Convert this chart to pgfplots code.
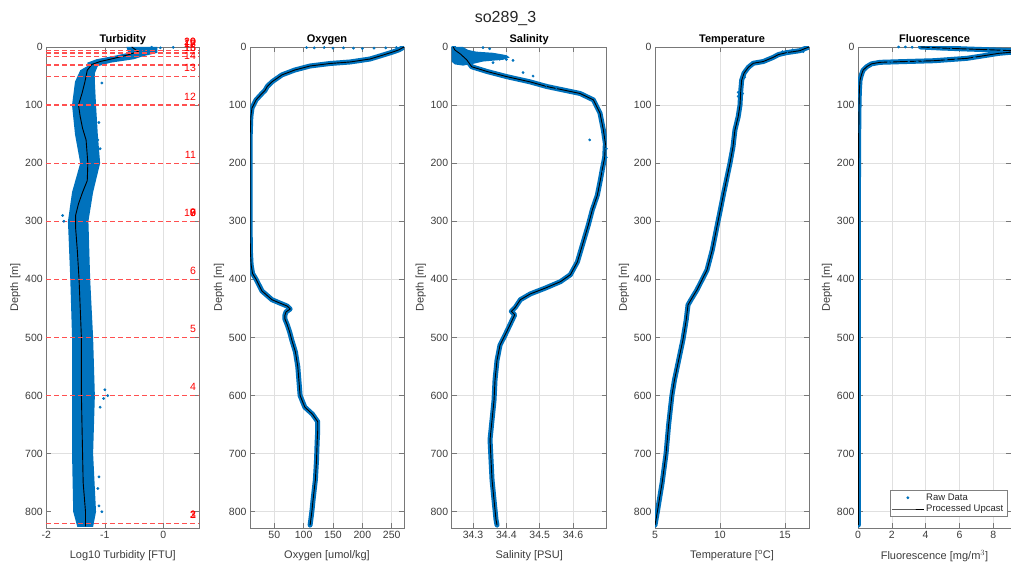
\documentclass[border=0pt]{standalone}
\usepackage{fontspec}
\setmainfont{Liberation Sans}
\usepackage{pgfplots}
\usepackage{pgfplotstable}
\pgfplotsset{compat=1.18}

\definecolor{matblue}{RGB}{0,114,189}
\definecolor{bottlered}{RGB}{255,0,0}
\definecolor{dashred}{RGB}{255,80,80}
\definecolor{axgray}{RGB}{120,120,120}
\definecolor{lblgray}{RGB}{60,60,60}

% ---------- turbidity (log10 FTU) ----------
\pgfplotstableread{
v d
-0.54 0
-0.43 8
-0.62 14
-0.86 20
-1.08 25
-1.22 30
-1.30 40
-1.34 60
-1.39 80
-1.45 100
-1.42 120
-1.38 140
-1.32 160
-1.29 200
-1.30 230
-1.38 250
-1.45 270
-1.50 290
-1.50 310
-1.47 350
-1.44 400
-1.42 450
-1.40 500
-1.40 550
-1.40 600
-1.39 650
-1.38 700
-1.37 750
-1.33 800
-1.33 825
}\turbproc

% outline of the raw scatter band
\pgfplotstableread{
v d
-0.10 0
-0.10 10
-0.35 16
-0.50 21
-0.90 27
-1.12 33
-1.17 45
-1.17 60
-1.15 100
-1.12 150
-1.08 200
-1.20 250
-1.28 300
-1.25 400
-1.20 500
-1.17 600
-1.20 700
-1.15 800
-1.20 826
-1.47 826
-1.54 800
-1.56 700
-1.56 600
-1.56 500
-1.59 400
-1.63 300
-1.56 250
-1.42 200
-1.51 150
-1.56 100
-1.51 60
-1.42 40
-1.30 33
-1.30 27
-1.14 21
-0.85 15.5
-0.60 10
-0.63 0
}\turbband

\pgfplotstableread{
v d
0.17 0.5
-0.20 0.5
-0.05 1.5
-0.25 3
-0.33 6
-1.05 62
-1.10 130
-1.12 160
-1.08 175
-1.72 290
-1.70 300
-1.00 590
-0.95 600
-1.02 605
-1.08 620
-1.10 740
-1.12 760
-1.10 790
-1.05 800
}\turbdots

\pgfplotstableread{
v d lab
0.56 805 1
0.56 805 2
0.56 805 3
0.56 585 4
0.56 485 5
0.56 385 6
0.56 285 7
0.56 285 8
0.56 285 9
0.56 285 10
0.56 185 11
0.56 85 12
0.56 36 13
0.56 16 14
0.56 1 15
0.56 1 16
0.56 -4.5 17
0.56 -4.5 18
0.56 -9 19
0.56 -9 20
}\bottlelabels

% ---------- oxygen (umol/kg) ----------
\pgfplotstableread{
v d
271 0
262 5
252 8.6
230 15.5
213 20.7
179 25.8
145 28.4
111 32.7
85 39.6
63 48
46 60
38 68
34 75
29 80
19 91
12 105
10 120
9 150
8.8 200
8.8 250
8.8 300
9.2 350
10.5 375
13 390
19 400
29 420
46 435
60 441
72 446
77 451
70 456
68 462
68 468
72 478
76 490
80 505
86 525
90 550
92 575
94 600
102 620
115 632
124 645
124 660
123 680
122 710
120 745
116 780
114 800
111 823
}\oxyproc

\pgfplotstableread{
v d
105 1
118 1.5
135 1
150 2
168 1.5
185 2
200 2.5
220 2
240 1.5
258 1
}\oxydots

% ---------- salinity (PSU) ----------
\pgfplotstableread{
v d
34.241 0
34.245 5
34.262 12
34.281 22
34.296 34
34.341 42
34.401 51
34.471 60
34.521 68
34.571 74
34.621 80
34.661 91
34.681 114
34.691 143
34.697 166
34.695 190
34.688 210
34.682 229
34.673 255
34.658 280
34.646 306
34.628 341
34.613 370
34.592 392
34.562 404
34.517 415
34.472 425
34.442 435
34.427 448
34.415 455
34.425 461
34.411 478
34.396 496
34.381 513
34.372 539
34.366 573
34.363 608
34.357 642
34.351 676
34.354 711
34.357 745
34.363 780
34.369 814
34.372 823
}\salproc

\pgfplotstableread{
v d
34.236 0
34.270 0
34.285 5
34.310 8
34.360 10
34.400 14
34.410 18
34.390 22
34.330 25
34.300 29
34.270 32
34.245 30
34.236 25
}\salcloud

\pgfplotstableread{
v d
34.33 1
34.35 3
34.38 21
34.40 21.5
34.42 23
34.36 27
34.45 44
34.48 50
34.52 66
34.55 70
34.65 160
34.70 175
34.70 190
34.69 215
}\saldots

% ---------- temperature (deg C) ----------
\pgfplotstableread{
v d
16.85 0
16.5 3
16.15 6.3
15.13 9.7
14.5 13
14.1 17.8
13.33 25
12.56 28
12.18 35
11.85 45
11.67 57
11.6 75
11.54 100
11.4 120
11.15 143
11.0 172
10.77 200
10.3 250
9.85 300
9.4 350
9.0 384
8.23 418
7.77 435
7.54 444
7.4 470
7.15 504
6.5 573
6.3 600
6.05 650
5.85 700
5.55 750
5.18 800
5.0 823
}\tempproc

\pgfplotstableread{
v d
15.6 5
16.4 8
14.8 8
15.2 11
11.40 78
11.40 85
11.75 80
11.90 52
}\tempdots

% ---------- fluorescence (mg/m3) ----------
\pgfplotstableread{
v d
3.7 0
5.0 1.8
6.5 3.5
8.0 5
9.05 6.3
9.8 7.5
9.8 8.5
9.05 9
8.3 11
7.66 14
6.45 19.5
4.5 23.6
2.5 25.3
1.3 26.4
0.8 29
0.52 33.8
0.3 40
0.2 48
0.12 57
0.08 75
0.06 100
0.04 150
0.03 200
0.02 400
0.02 823
}\fluproc

\pgfplotstableread{
v d
2.4 0
2.8 0
3.2 0.5
4.3 2
4.9 3.5
5.5 3.5
6.5 5
7.7 6
8.5 6
2.0 25
3.0 24
3.8 23
5.2 22
5.8 21
6.9 18
3.5 25.5
1.8 26
}\fludots

\pgfplotsset{
  panel/.style={
    scale only axis, width=154pt, height=481pt, anchor=south west,
    y dir=reverse, ymin=0, ymax=828, ytick={0,100,...,800},
    axis line style={axgray, line width=0.6pt},
    tick style={axgray, line width=0.6pt},
    tick align=inside, major tick length=5pt,
    grid=major, major grid style={black!12, line width=0.5pt},
    tick label style={font=\fontsize{10.5}{12}\selectfont, text=lblgray},
    label style={font=\fontsize{11}{13}\selectfont, text=lblgray},
    xlabel style={yshift=-5pt},
    ylabel style={yshift=-2pt},
    title style={font=\bfseries\fontsize{11}{13}\selectfont, at={(0.5,1)}, anchor=south,
      yshift=-6.5pt, inner sep=2pt, text depth=2.4pt},
    ylabel={Depth [m]},
    /pgf/number format/assume math mode=true,
  },
  rawband/.style={matblue, line width=5pt, line join=round, line cap=round},
  rawdots/.style={color=matblue, only marks, mark=*, mark size=1.2pt, mark options={draw=none, fill=matblue}},
  proc/.style={black, line width=0.9pt},
  bottle/.style={draw=dashred, line width=1.3pt, dash pattern=on 5pt off 3pt, forget plot},
}

\begin{document}
\begin{tikzpicture}
\useasboundingbox (0,0) rectangle (1011pt,569pt);

\node[font=\fontsize{16}{18}\selectfont, text=black!85] at (505.5pt,550pt) {so289\_3};

% Turbidity: y grid only where no bottle line lies (700 m)
\begin{axis}[panel, at={(46.3pt,41pt)}, width=153pt,
  title={Turbidity}, xmin=-2, xmax=0.615, xtick={-2,-1,0},
  ymajorgrids=false, extra y ticks={700}, extra y tick labels={},
  extra y tick style={grid=major},
  xlabel={Log10 Turbidity [FTU]}, clip=false]
  \addplot[fill=matblue, draw=none, forget plot] table[x=v,y=d] {\turbband};
  \addplot[rawdots, forget plot] table[x=v,y=d] {\turbdots};
  \addplot[proc, forget plot] table[x=v,y=d] {\turbproc};
  \addplot[bottle] coordinates {(-2,6) (0.615,6)};
  \addplot[bottle] coordinates {(-2,10.5) (0.615,10.5)};
  \addplot[bottle] coordinates {(-2,16) (0.615,16)};
  \addplot[bottle] coordinates {(-2,31) (0.615,31)};
  \addplot[bottle] coordinates {(-2,51) (0.615,51)};
  \addplot[bottle] coordinates {(-2,100) (0.615,100)};
  \addplot[bottle] coordinates {(-2,200) (0.615,200)};
  \addplot[bottle] coordinates {(-2,300) (0.615,300)};
  \addplot[bottle] coordinates {(-2,400) (0.615,400)};
  \addplot[bottle] coordinates {(-2,500) (0.615,500)};
  \addplot[bottle] coordinates {(-2,600) (0.615,600)};
  \addplot[bottle] coordinates {(-2,820) (0.615,820)};
  \addplot[draw=none, mark=none, forget plot, point meta=explicit symbolic,
    nodes near coords,
    every node near coord/.append style={anchor=east, inner sep=0pt, text=bottlered, font=\fontsize{10.5}{12}\selectfont}]
    table[x=v,y=d,meta=lab] {\bottlelabels};
\end{axis}

% Oxygen
\begin{axis}[panel, at={(250pt,41pt)},
  title={Oxygen}, xmin=8.6, xmax=271, xtick={50,100,...,250},
  xlabel={Oxygen [umol/kg]}]
  \addplot[rawband] table[x=v,y=d] {\oxyproc};
  \addplot[rawdots] table[x=v,y=d] {\oxydots};
  \addplot[proc] table[x=v,y=d] {\oxyproc};
\end{axis}

% Salinity
\begin{axis}[panel, at={(451.7pt,41pt)}, width=155pt,
  title={Salinity}, xmin=34.236, xmax=34.701, xtick={34.3,34.4,34.5,34.6},
  xticklabel style={/pgf/number format/fixed, /pgf/number format/precision=1},
  xlabel={Salinity [PSU]}]
  \addplot[fill=matblue, draw=none] table[x=v,y=d] {\salcloud};
  \addplot[rawband] table[x=v,y=d] {\salproc};
  \addplot[rawdots] table[x=v,y=d] {\saldots};
  \addplot[proc] table[x=v,y=d] {\salproc};
\end{axis}

% Temperature
\begin{axis}[panel, at={(655pt,41pt)},
  title={Temperature}, xmin=5, xmax=16.85, xtick={5,10,15},
  xlabel={Temperature [$^{\mathrm{o}}$C]}]
  \addplot[rawband] table[x=v,y=d] {\tempproc};
  \addplot[rawdots] table[x=v,y=d] {\tempdots};
  \addplot[proc] table[x=v,y=d] {\tempproc};
\end{axis}

% Fluorescence
\begin{axis}[panel, at={(858pt,41pt)}, width=153pt,
  title={Fluorescence}, xmin=0, xmax=9.05, xtick={0,2,4,6,8},
  xlabel={Fluorescence [mg/m$^3$]},
  legend style={at={(0.974,0.023)}, anchor=south east, draw=black!50, line width=0.5pt,
    fill=white, font=\fontsize{9.5}{11}\selectfont, text=black!85, inner sep=1.5pt, row sep=-1pt,
    cells={anchor=west}},
  legend image code/.code={\draw[mark repeat=2, mark phase=2, #1] plot coordinates {(0pt,0pt) (16pt,0pt) (32pt,0pt)};}]
  \addplot[rawband, forget plot] table[x=v,y=d] {\fluproc};
  \addplot[rawdots, forget plot] table[x=v,y=d] {\fludots};
  \addplot[proc, forget plot] table[x=v,y=d] {\fluproc};
  \addlegendimage{only marks, mark=*, mark size=1.2pt, color=matblue}
  \addlegendentry{Raw Data}
  \addlegendimage{black, line width=0.6pt}
  \addlegendentry{Processed Upcast}
\end{axis}
\end{tikzpicture}
\end{document}
